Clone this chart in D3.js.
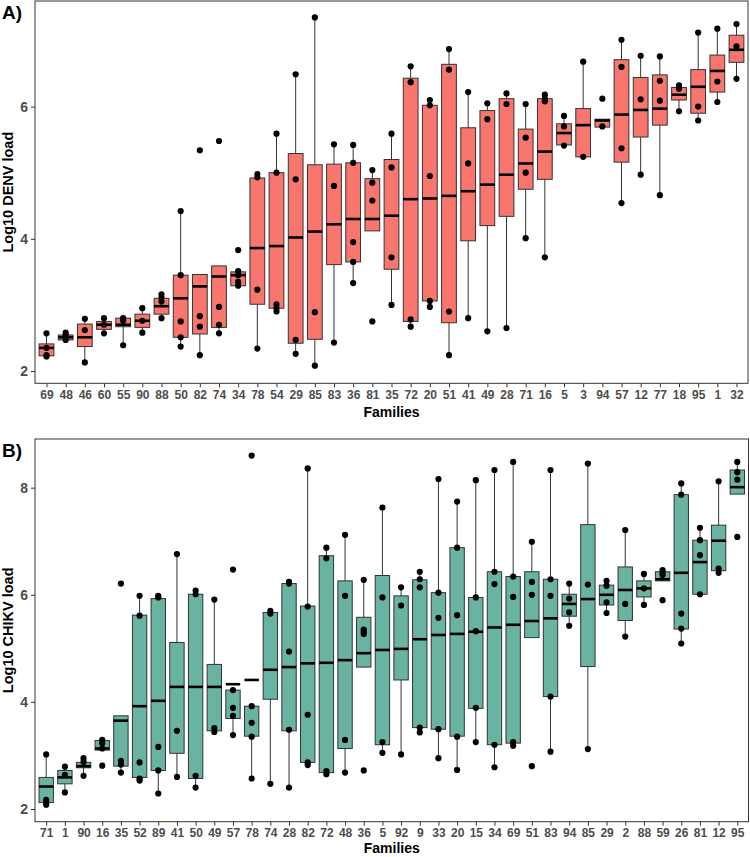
<!DOCTYPE html>
<html>
<head>
<meta charset="utf-8">
<script src="https://cdn.jsdelivr.net/npm/d3@7"></script>
<style>
  html, body { margin: 0; padding: 0; background: #fff; }
  svg { display: block; font-family: "Liberation Sans", Arial, sans-serif; }
</style>
</head>
<body>
<svg id="chart" width="750" height="857"></svg>
<script>
// ---------- Panel A: DENV ----------
const denvFamilies = ["69","48","46","60","55","90","88","50","82","74","34","78","54","29","85","83","36","81","35","72","20","51","41","49","28","71","16","5","3","94","57","12","77","18","95","1","32"];
const denvLower  = [2.23,2.47,2.13,2.57,2.39,2.58,2.80,2.37,2.24,2.57,3.29,2.34,2.90,2.26,2.08,2.43,3.33,4.12,3.00,2.67,2.97,2.24,2.80,2.60,2.65,4.01,3.72,5.41,5.24,5.69,4.54,4.97,4.66,5.93,5.79,6.07,6.42];
const denvQ1     = [2.23,2.47,2.37,2.63,2.67,2.66,2.86,2.51,2.56,2.66,3.29,3.01,2.95,2.42,2.48,3.61,3.65,4.12,3.54,2.75,3.06,2.73,3.97,4.20,4.34,4.75,4.90,5.42,5.24,5.69,5.16,5.54,5.72,6.10,5.90,6.22,6.67];
const denvMedian = [2.35,2.51,2.51,2.70,2.70,2.76,2.98,3.10,3.28,3.43,3.45,3.86,3.89,4.02,4.11,4.22,4.30,4.30,4.35,4.60,4.61,4.65,4.72,4.82,4.97,5.14,5.32,5.60,5.72,5.79,5.88,5.95,5.97,6.18,6.30,6.54,6.86];
const denvQ3     = [2.41,2.545,2.71,2.75,2.80,2.86,3.10,3.45,3.46,3.59,3.50,4.92,5.00,5.29,5.12,5.13,5.15,4.91,5.20,6.43,6.02,6.64,5.68,5.94,6.12,5.66,6.12,5.74,5.97,5.81,6.71,6.44,6.48,6.29,6.56,6.78,7.08];
const denvUpper  = [2.57,2.58,2.79,2.80,2.80,2.95,3.16,4.42,3.46,3.59,3.50,4.98,5.59,6.49,7.35,5.43,5.42,5.04,5.59,6.61,6.10,6.87,6.22,6.05,6.20,6.04,6.18,5.86,6.68,5.81,7.01,6.77,6.76,6.32,7.12,7.18,7.25];
const denvPoints = [
  [2.57,2.35,2.24,2.22],[2.58,2.545,2.51,2.47],[2.79,2.62,2.13],[2.80,2.70,2.57],[2.80,2.76,2.39],
  [2.95,2.76,2.58],[3.16,3.11,3.05,2.80],[4.42,3.45,2.75,2.51,2.37],[5.34,2.83,2.67,2.24],[5.48,2.97,2.70,2.57],
  [3.83,3.51,3.45,3.35,3.29],[4.98,4.93,3.23,2.34],[5.59,5.00,3.01,2.95,2.90],[6.49,4.90,2.47,2.26],[7.35,2.89,2.08],
  [5.43,4.80,2.43],[5.42,5.15,3.95,3.65,3.33],[5.04,4.85,4.58,2.75],[5.59,5.08,3.72,3.00],[6.61,6.37,2.78,2.67],
  [6.10,6.02,4.95,3.06,2.97],[6.87,6.56,2.90,2.24],[6.22,5.14,2.80],[6.05,5.81,2.60],[6.20,6.04,2.65],
  [6.04,5.53,5.00,4.01],[6.18,6.12,6.08,3.72],[5.86,5.70,5.41],[6.68,5.24],[6.12,5.70],
  [7.01,6.60,5.37,4.54],[6.77,6.11,4.97],[6.76,6.39,6.09,4.66],[6.32,6.27,5.93],[7.12,6.00,5.79],
  [7.18,6.38,6.07],[7.25,6.91,6.42]
];
const denvTicks = [2, 4, 6];

// ---------- Panel B: CHIKV ----------
const chikvFamilies = ["71","1","90","16","35","52","89","41","50","49","57","78","74","28","82","72","48","36","5","92","9","33","20","15","34","69","51","83","94","85","29","2","88","59","26","81","12","95"];
const chikvLower  = [2.08,2.31,2.62,3.10,2.68,2.53,2.29,2.60,2.40,3.46,3.38,2.57,2.47,2.40,2.82,2.64,2.68,4.65,3.05,3.02,3.43,2.95,2.73,3.25,2.78,3.18,5.20,3.07,5.42,3.12,5.66,5.22,5.81,6.26,5.09,6.01,6.45,7.88];
const chikvQ1     = [2.12,2.47,2.77,3.10,2.80,2.59,2.72,3.04,2.57,3.46,3.69,3.36,4.05,3.46,2.87,2.68,3.13,4.65,3.20,4.41,3.52,3.49,3.36,3.88,3.20,3.23,5.20,4.10,5.60,4.66,5.81,5.52,5.96,6.26,5.36,6.01,6.45,7.88];
const chikvMedian = [2.42,2.59,2.80,3.13,3.65,3.92,4.02,4.28,4.28,4.28,4.33,4.41,4.60,4.65,4.72,4.73,4.78,4.91,4.97,4.99,5.17,5.25,5.27,5.31,5.39,5.44,5.51,5.56,5.83,5.92,6.00,6.09,6.12,6.29,6.41,6.61,7.01,8.01];
const chikvQ3     = [2.59,2.72,2.87,3.28,3.74,5.62,5.93,5.11,6.01,4.70,4.22,3.92,5.67,6.21,5.79,6.73,6.26,5.58,6.36,5.98,6.28,6.04,6.88,5.95,6.43,6.34,6.43,6.29,6.01,7.31,6.18,6.52,6.26,6.43,7.87,7.02,7.30,8.33];
const chikvUpper  = [3.02,2.79,2.95,3.29,3.74,5.98,5.98,6.76,6.08,5.91,4.22,3.92,5.70,6.24,8.36,6.88,7.12,6.28,7.63,6.14,6.43,8.16,7.74,8.14,8.33,8.48,6.99,8.33,6.21,8.45,6.26,7.21,6.39,6.46,8.08,7.25,8.12,8.48];
const chikvPoints = [
  [3.02,2.17,2.12,2.08],[2.79,2.64,2.31],[2.95,2.88,2.62],[3.29,3.23,3.13,2.81],[6.21,2.90,2.83,2.68],
  [5.98,5.61,2.87,2.57,2.53],[5.98,5.95,3.16,2.72,2.29],[6.76,3.46,2.60],[6.08,6.01,2.62,2.40],[5.91,3.51,3.44],
  [6.47,4.22,3.89,3.74,3.38],[8.60,3.92,3.61,3.35,2.57],[5.70,5.65,2.47],[6.24,6.21,4.94,3.48,2.40],[8.36,5.78,3.76,2.87,2.82],
  [6.88,6.68,2.71,2.65],[7.12,5.98,3.29,2.68],[6.28,5.35,5.31,5.27,2.72],[7.63,5.95,3.25,3.05],[6.14,5.80,3.02],
  [6.43,6.29,6.14,3.52,3.43],[8.16,6.04,5.57,3.49,2.95],[7.74,6.88,5.62,3.35,2.73],[8.14,5.95,5.32,3.89,3.25],[8.33,6.43,6.20,3.20,2.78],
  [8.48,6.34,5.96,3.25,3.18],[6.99,6.24,6.00,2.80],[8.33,6.29,5.98,4.10,3.07],[6.21,5.93,5.67,5.42],[8.45,6.19,3.12],
  [6.26,6.17,5.86,5.66],[7.21,5.83,5.22],[6.39,6.12,5.81],[6.46,6.41,6.37,5.90],[8.08,7.87,5.65,5.37,5.09],
  [7.25,7.02,6.74,6.01],[8.12,6.49,6.41],[8.48,8.29,8.15,7.08]
];
const chikvTicks = [2, 4, 6, 8];

const svg = d3.select("#chart");

function drawPanel(cfg) {
  const { families, lower, q1, median, q3, upper, points, ticks, fill,
          yDomain, top, bottom, left, right, letter, yTitle, titleOffset } = cfg;

  const x = d3.scalePoint().domain(families).range([left, right]).padding(0.6);
  const y = d3.scaleLinear().domain(yDomain).range([bottom, top]);
  const bw = x.step() * 0.77;

  const g = svg.append("g");

  // whiskers
  g.selectAll("line.whisker").data(families).enter().append("line")
    .attr("x1", d => x(d)).attr("x2", d => x(d))
    .attr("y1", (d, i) => y(lower[i])).attr("y2", (d, i) => y(upper[i]))
    .attr("stroke", "#333").attr("stroke-width", 1);

  // boxes
  g.selectAll("rect.box").data(families).enter().append("rect")
    .attr("x", d => x(d) - bw / 2).attr("width", bw)
    .attr("y", (d, i) => y(Math.max(q1[i], q3[i])))
    .attr("height", (d, i) => Math.abs(y(q1[i]) - y(q3[i])))
    .attr("fill", fill).attr("stroke", "#333").attr("stroke-width", 1);

  // medians
  g.selectAll("line.median").data(families).enter().append("line")
    .attr("x1", d => x(d) - bw / 2).attr("x2", d => x(d) + bw / 2)
    .attr("y1", (d, i) => y(median[i])).attr("y2", (d, i) => y(median[i]))
    .attr("stroke", "#000").attr("stroke-width", 2.6);

  // points
  const pts = [];
  families.forEach((f, i) => points[i].forEach(v => pts.push({ f, v })));
  g.selectAll("circle.pt").data(pts).enter().append("circle")
    .attr("cx", d => x(d.f)).attr("cy", d => y(d.v)).attr("r", 3.1)
    .attr("fill", "#000");

  // panel border
  g.append("rect").attr("x", left).attr("y", top)
    .attr("width", right - left).attr("height", bottom - top)
    .attr("fill", "none").attr("stroke", "#333").attr("stroke-width", 1);

  // y axis
  const ya = g.append("g").attr("transform", `translate(${left},0)`)
    .call(d3.axisLeft(y).tickValues(ticks).tickFormat(d3.format("d")).tickSize(4).tickPadding(3));
  ya.select(".domain").remove();
  ya.selectAll(".tick line").attr("stroke", "#333");
  ya.selectAll(".tick text").attr("fill", "#4d4d4d").attr("font-size", 14)
    .attr("font-weight", "bold").attr("font-family", "'Liberation Sans', Arial, sans-serif");

  // x axis
  const xa = g.append("g").attr("transform", `translate(0,${bottom})`)
    .call(d3.axisBottom(x).tickSize(4).tickPadding(3));
  xa.select(".domain").remove();
  xa.selectAll(".tick line").attr("stroke", "#333");
  xa.selectAll(".tick text").attr("fill", "#4d4d4d").attr("font-size", 12)
    .attr("font-weight", "bold").attr("font-family", "'Liberation Sans', Arial, sans-serif");

  // titles
  g.append("text").attr("x", (left + right) / 2).attr("y", bottom + titleOffset)
    .attr("text-anchor", "middle").attr("font-size", 14).attr("font-weight", "bold")
    .attr("fill", "#000").text("Families");

  g.append("text")
    .attr("transform", `translate(13,${(top + bottom) / 2}) rotate(-90)`)
    .attr("text-anchor", "middle").attr("font-size", 14.5).attr("font-weight", "bold")
    .attr("fill", "#000").text(yTitle);

  g.append("text").attr("x", 2).attr("y", top + 18)
    .attr("font-size", 19).attr("font-weight", "bold").attr("fill", "#000").text(letter);
}

drawPanel({
  families: denvFamilies, lower: denvLower, q1: denvQ1, median: denvMedian, q3: denvQ3,
  upper: denvUpper, points: denvPoints, ticks: denvTicks, fill: "#F8766D",
  yDomain: [1.814, 7.598], top: 1, bottom: 383.3, left: 35, right: 748,
  letter: "A)", yTitle: "Log10 DENV load", titleOffset: 34
});

drawPanel({
  families: chikvFamilies, lower: chikvLower, q1: chikvQ1, median: chikvMedian, q3: chikvQ3,
  upper: chikvUpper, points: chikvPoints, ticks: chikvTicks, fill: "#69B3A2",
  yDomain: [1.763, 8.909], top: 439, bottom: 821.7, left: 35, right: 748.5,
  letter: "B)", yTitle: "Log10 CHIKV load", titleOffset: 31
});
</script>
</body>
</html>
